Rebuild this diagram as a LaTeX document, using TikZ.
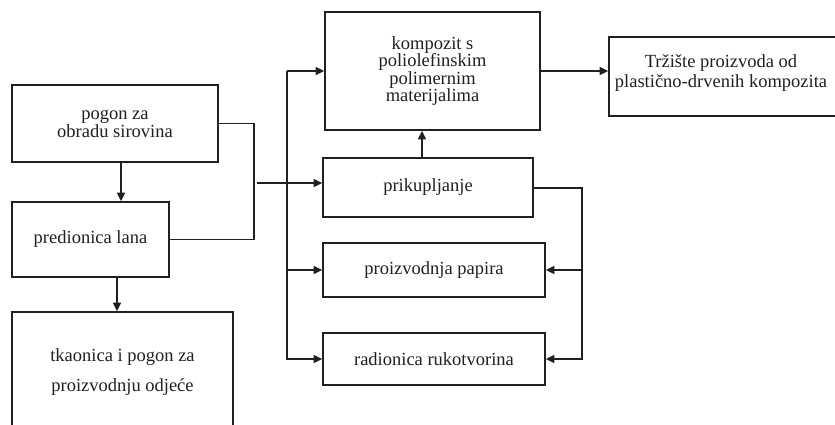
\documentclass[tikz,border=0pt]{standalone}
\usepackage{fontspec}
\setmainfont{Liberation Serif}
\usetikzlibrary{arrows.meta}

\definecolor{ink}{HTML}{231F20}

\tikzset{
  box/.style={draw=ink, line width=1.8pt, rectangle, inner sep=0pt,
    align=center, text=ink, font=\fontsize{18.5}{18}\selectfont},
  plain/.style={inner sep=0pt, align=center, text=ink},
  wire/.style={draw=ink, line width=1.6pt},
  arr/.style={wire, -{Triangle[length=8.5pt,width=8pt]}}
}

\begin{document}
\begin{tikzpicture}[x=1pt, y=-1pt]
\useasboundingbox (0,0) rectangle (835,425);
\fill[white] (0,0) rectangle (835,425);
\clip (0,0) rectangle (835,425);

% left column
\node[box, minimum width=206pt, minimum height=77pt] (obrada) at (115,123.5)
  {pogon za\\obradu sirovina};
\node[box, minimum width=157pt, minimum height=75pt] (predionica) at (90.5,239.5)
  {predionica lana};
\node[box, minimum width=221pt, minimum height=120pt,
  font=\fontsize{18.5}{30}\selectfont] (tkaonica) at (122.5,372)
  {tkaonica i pogon za\\proizvodnju odjeće};

% middle column
\node[box, minimum width=215pt, minimum height=118pt,
  font=\fontsize{18.5}{17.5}\selectfont] (kompozit) at (432.5,71)
  {kompozit s\\poliolefinskim\\polimernim\\materijalima};
\node[box, minimum width=210pt, minimum height=59pt] (prikupljanje) at (428,187.5)
  {prikupljanje};
\node[box, minimum width=222pt, minimum height=54pt] (papir) at (434,270)
  {proizvodnja papira};
\node[box, minimum width=222pt, minimum height=52pt] (rukotvorine) at (434,359)
  {radionica rukotvorina};

% market box, running off the right edge
\node[box, minimum width=236pt, minimum height=79pt] (trziste) at (727,76.5) {};
\node[plain, font=\fontsize{18.5}{20}\selectfont] (trzistetxt) at (721,73)
  {Tržište proizvoda od\\plastično-drvenih kompozita};

% junction points of the connectors
\coordinate (merge) at (257,183);
\coordinate (bus) at (287,0);
\coordinate (rbus) at (582,0);

% left column flows
\draw[arr] (obrada.south -| 121,0) -- (predionica.north -| 121,0);
\draw[arr] (predionica.south -| 117,0) -- (tkaonica.north -| 117,0);
\draw[wire] (obrada.east) -- ++(35,0) |- (predionica.east);
\draw[arr] (merge) -- (merge -| prikupljanje.west);

% distribution bus on the left of the middle column
\draw[arr] (kompozit.west -| bus) -- (kompozit.west);
\draw[arr] (kompozit.west -| bus) |- (rukotvorine.west);
\draw[arr] (papir.west -| bus) -- (papir.west);

% collection to composite
\draw[arr] (prikupljanje.north -| 422,0) -- (kompozit.south -| 422,0);

% collection feeds paper and crafts
\draw[arr] (prikupljanje.east |- 0,188) -| (rbus |- rukotvorine.east) -- (rukotvorine.east);
\draw[arr] (papir.east -| rbus) -- (papir.east);

% composite to market
\draw[arr] (kompozit.east) -- (kompozit.east -| trziste.west);
\end{tikzpicture}
\end{document}
